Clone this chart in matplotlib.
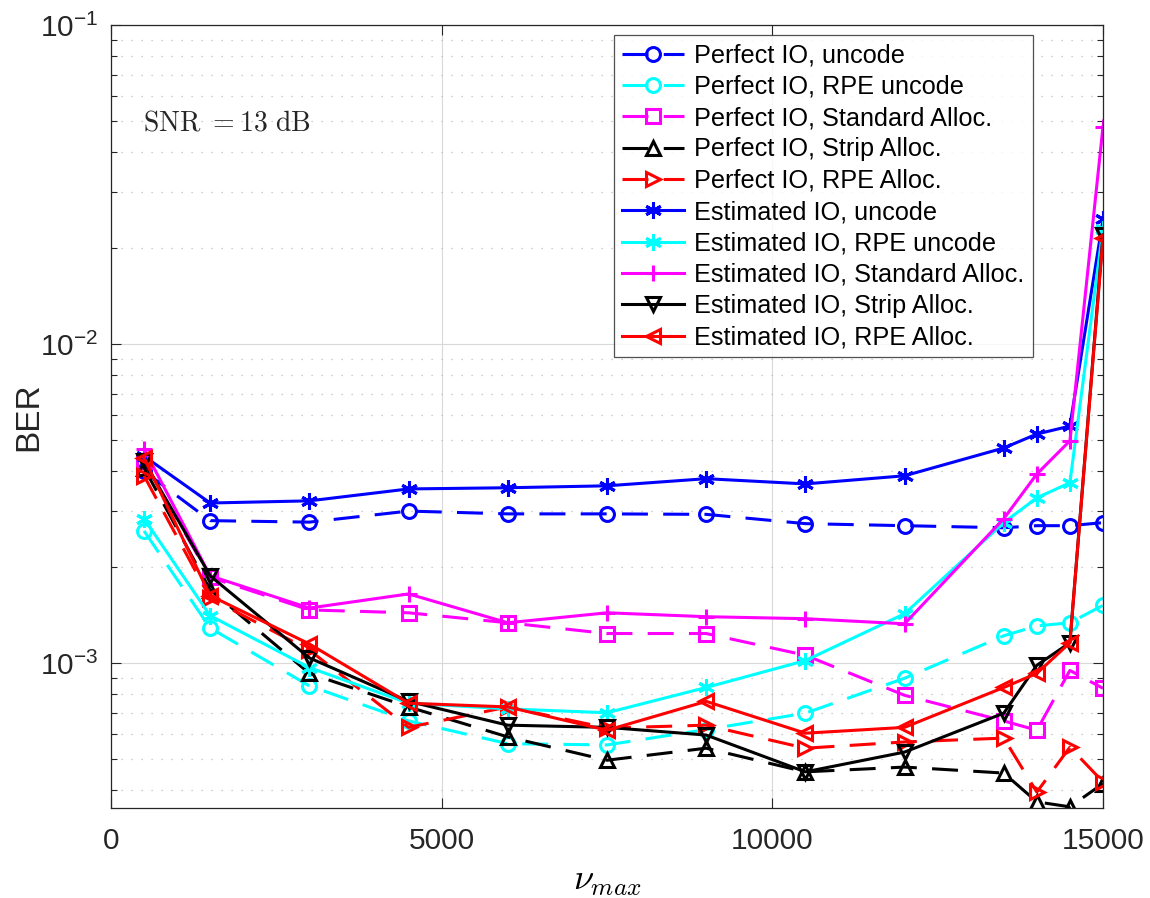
import numpy as np
import matplotlib
matplotlib.use("Agg")
import matplotlib.pyplot as plt
from matplotlib.ticker import FixedLocator, LogLocator, NullFormatter, FuncFormatter

plt.rcParams['font.family'] = ['Liberation Sans', 'DejaVu Sans']
plt.rcParams['mathtext.fontset'] = 'custom'
plt.rcParams['mathtext.rm'] = 'Liberation Sans'
plt.rcParams['mathtext.it'] = 'Liberation Sans:italic'

nu_max = [500, 1500, 3000, 4500, 6000, 7500, 9000, 10500, 12000, 13500, 14000, 14500, 15000]

perfect_uncode = [4.0e-3, 2.8e-3, 2.77e-3, 3.0e-3, 2.94e-3, 2.94e-3, 2.93e-3, 2.74e-3, 2.7e-3, 2.66e-3, 2.7e-3, 2.7e-3, 2.76e-3]
perfect_rpe_uncode = [2.6e-3, 1.29e-3, 8.5e-4, 6.6e-4, 5.6e-4, 5.55e-4, 6.2e-4, 6.98e-4, 8.98e-4, 1.22e-3, 1.31e-3, 1.34e-3, 1.52e-3]
perfect_standard = [4.3e-3, 1.86e-3, 1.47e-3, 1.44e-3, 1.34e-3, 1.24e-3, 1.24e-3, 1.06e-3, 7.94e-4, 6.6e-4, 6.17e-4, 9.5e-4, 8.35e-4]
perfect_strip = [4.1e-3, 1.7e-3, 9.3e-4, 7.3e-4, 5.88e-4, 4.97e-4, 5.42e-4, 4.57e-4, 4.73e-4, 4.53e-4, 3.68e-4, 3.55e-4, 4.2e-4]
perfect_rpe_alloc = [3.87e-3, 1.6e-3, 1.1e-3, 6.3e-4, 7.3e-4, 6.27e-4, 6.4e-4, 5.42e-4, 5.67e-4, 5.83e-4, 3.95e-4, 5.46e-4, 4.25e-4]

est_uncode = [4.46e-3, 3.18e-3, 3.23e-3, 3.52e-3, 3.55e-3, 3.6e-3, 3.79e-3, 3.65e-3, 3.87e-3, 4.73e-3, 5.23e-3, 5.54e-3, 2.46e-2]
est_rpe_uncode = [2.84e-3, 1.41e-3, 9.7e-4, 7.5e-4, 7.2e-4, 7.0e-4, 8.4e-4, 1.02e-3, 1.43e-3, 2.76e-3, 3.3e-3, 3.68e-3, 2.3e-2]
est_standard = [4.7e-3, 1.88e-3, 1.49e-3, 1.65e-3, 1.34e-3, 1.44e-3, 1.40e-3, 1.38e-3, 1.33e-3, 2.84e-3, 3.92e-3, 4.98e-3, 4.8e-2]
est_strip = [4.3e-3, 1.88e-3, 1.04e-3, 7.6e-4, 6.4e-4, 6.3e-4, 5.96e-4, 4.57e-4, 5.27e-4, 6.98e-4, 9.86e-4, 1.16e-3, 2.2e-2]
est_rpe_alloc = [4.4e-3, 1.63e-3, 1.15e-3, 7.5e-4, 7.3e-4, 6.17e-4, 7.6e-4, 6.04e-4, 6.3e-4, 8.4e-4, 9.3e-4, 1.16e-3, 2.15e-2]

labels = ['Perfect IO, uncode', 'Perfect IO, RPE uncode', 'Perfect IO, Standard Alloc.',
          'Perfect IO, Strip Alloc.', 'Perfect IO, RPE Alloc.',
          'Estimated IO, uncode', 'Estimated IO, RPE uncode', 'Estimated IO, Standard Alloc.',
          'Estimated IO, Strip Alloc.', 'Estimated IO, RPE Alloc.']

series = [perfect_uncode, perfect_rpe_uncode, perfect_standard, perfect_strip, perfect_rpe_alloc,
          est_uncode, est_rpe_uncode, est_standard, est_strip, est_rpe_alloc]
colors = ['#0000ff', '#00ffff', '#ff00ff', '#000000', '#ff0000'] * 2
asterisk = (6, 2, 0)
markers = ['o', 'o', 's', '^', '>', asterisk, asterisk, '+', 'v', '<']
styles = ['--'] * 5 + ['-'] * 5

fig = plt.figure(figsize=(11.5, 8.98), dpi=100)
ax = fig.add_axes([0.0965, 0.1002, 0.8626, 0.8718])

for y, c, m, ls, lab in zip(series, colors, markers, styles, labels):
    ms = 12 if m in ('+', asterisk) else 10
    kw = dict(dashes=(8.5, 5)) if ls == '--' else {}
    ax.plot(nu_max, y, linestyle=ls, color=c, marker=m, markersize=ms,
            markerfacecolor='none', markeredgecolor=c, markeredgewidth=2.2,
            linewidth=2.2, label=lab, **kw)

ax.set_yscale('log')
ax.set_xlim(0, 15000)
ax.set_ylim(3.52e-4, 1e-1)
ax.set_xticks([0, 5000, 10000, 15000])
ax.set_xticklabels(['0', '5000', '10000', '15000'])
ax.yaxis.set_major_locator(FixedLocator([1e-3, 1e-2, 1e-1]))
ax.yaxis.set_major_formatter(FuncFormatter(lambda v, p: r'$\mathregular{10^{%d}}$' % int(round(np.log10(v)))))
ax.yaxis.set_minor_locator(LogLocator(base=10, subs=np.arange(2, 10)))
ax.yaxis.set_minor_formatter(NullFormatter())

ax.grid(True, which='major', color='#d9d9d9', linewidth=0.8, linestyle='-')
ax.grid(True, which='minor', axis='y', color='#bdbdbd', linewidth=0.9, linestyle=(0, (1, 7)))
ax.set_axisbelow(True)

ax.tick_params(axis='both', which='both', direction='in', top=True, right=True, labelsize=21.5, colors='#262626')
ax.tick_params(which='major', length=7, width=0.8)
ax.tick_params(axis='x', which='major', pad=14)
ax.tick_params(axis='y', which='major', pad=9)
ax.tick_params(which='minor', length=4, width=0.8)
for s in ax.spines.values():
    s.set_color('#262626')
    s.set_linewidth(0.9)

ax.set_ylabel('BER', fontsize=24, color='#262626')
ax.yaxis.set_label_coords(-0.067, 0.5)
ax.set_xlabel(r'$\nu_{max}$', fontsize=26, math_fontfamily='cm')
ax.xaxis.set_label_coords(0.5, -0.07)

ax.text(0.032, 0.875, r'$\mathrm{SNR\ {=}13\ dB}$', transform=ax.transAxes,
        fontsize=20, math_fontfamily='cm', va='center', ha='left', color='#262626')

leg = ax.legend(loc='upper right', bbox_to_anchor=(0.929, 0.987), borderaxespad=0,
                fontsize=18.2, labelspacing=0.29, handlelength=2.45, handletextpad=0.42,
                borderpad=0.32, frameon=True, fancybox=False, edgecolor='#262626')
leg.get_frame().set_linewidth(0.9)

fig.savefig('out.png', dpi=100, facecolor='white')
